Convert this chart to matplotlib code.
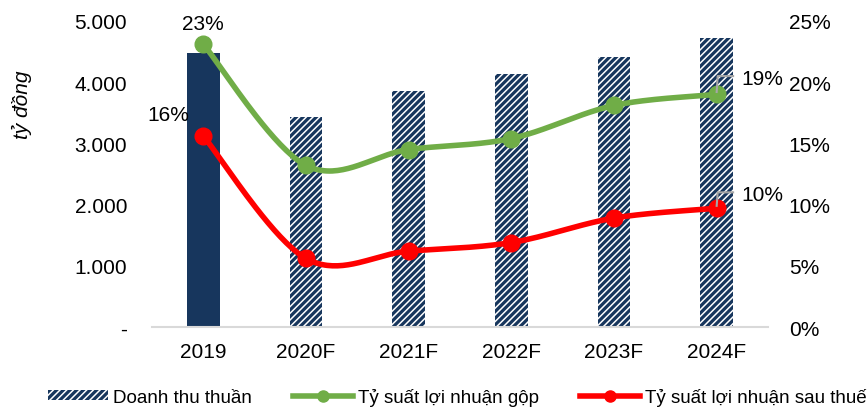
import numpy as np
import matplotlib
matplotlib.use("Agg")
import matplotlib.pyplot as plt
from matplotlib.patches import Patch
from matplotlib.lines import Line2D

plt.rcParams['font.family'] = ['Liberation Sans', 'DejaVu Sans']
plt.rcParams['hatch.linewidth'] = 2.3

categories = ["2019", "2020F", "2021F", "2022F", "2023F", "2024F"]
revenue = [4470, 3430, 3860, 4130, 4410, 4720]          # tỷ đồng
gross_margin = [23.1, 13.2, 14.5, 15.4, 18.1, 19.0]     # %
net_margin = [15.6, 5.6, 6.2, 6.9, 8.9, 9.7]            # %
left_ticks = [0, 1000, 2000, 3000, 4000, 5000]
left_ticklabels = ["-", "1.000", "2.000", "3.000", "4.000", "5.000"]
right_ticks = [0, 5, 10, 15, 20, 25]

NAVY = "#17365D"
GREEN = "#70AD47"
RED = "#FF0000"
FS = 15

fig = plt.figure(figsize=(8.68, 4.10), dpi=100)
ax = fig.add_axes([152 / 868, 1 - 328 / 410, (768 - 152) / 868, (328 - 22) / 410])
ax2 = ax.twinx()

x = np.arange(len(categories))
bw = 0.32
ax.bar(x[0], revenue[0], width=bw, color=NAVY, zorder=2)
ax.bar(x[1:], revenue[1:], width=bw, color="white", edgecolor=NAVY,
       hatch="/////", linewidth=0, zorder=2)

ax.set_xlim(-0.5, len(categories) - 0.5)
ax.set_ylim(0, 5000)
ax.set_yticks(left_ticks)
ax.set_yticklabels(left_ticklabels)
ax.set_xticks(x)
ax.set_xticklabels(categories)
ax2.set_ylim(0, 25)
ax2.set_yticks(right_ticks)
ax2.set_yticklabels([f"{t}%" for t in right_ticks])

for a in (ax, ax2):
    for s in a.spines.values():
        s.set_visible(False)
    a.tick_params(length=0, labelsize=FS, colors="black")
ax.spines['bottom'].set_visible(True)
ax.spines['bottom'].set_color("#D9D9D9")
ax.spines['bottom'].set_linewidth(1.5)
ax.tick_params(axis='y', pad=18)
ax.tick_params(axis='x', pad=11)
ax2.tick_params(axis='y', pad=15)


def smooth(xs, ys, n=40):
    # Catmull-Rom curve computed in pixel space so the bends look even
    sx, sy = 102.7, 12.24
    P = np.column_stack([np.asarray(xs, float) * sx, np.asarray(ys, float) * sy])
    P = np.vstack([P[0], P, P[-1]])
    out = []
    for i in range(1, len(P) - 2):
        p0, p1, p2, p3 = P[i - 1], P[i], P[i + 1], P[i + 2]
        c1 = p1 + (p2 - p0) / 6
        c2 = p2 - (p3 - p1) / 6
        t = np.linspace(0, 1, n)[:, None]
        seg = ((1 - t) ** 3) * p1 + 3 * ((1 - t) ** 2) * t * c1 + 3 * (1 - t) * t ** 2 * c2 + t ** 3 * p2
        out.append(seg if i == 1 else seg[1:])
    out = np.vstack(out)
    return out[:, 0] / sx, out[:, 1] / sy


for vals, col in ((gross_margin, GREEN), (net_margin, RED)):
    cx, cy = smooth(x, vals)
    ax2.plot(cx, cy, color=col, lw=4, zorder=3, solid_capstyle='round')
    ax2.plot(x, vals, 'o', color=col, ms=12, zorder=4)

# data labels
ax2.text(x[0], gross_margin[0] + 0.9, f"{round(gross_margin[0])}%", ha="center",
         va="bottom", fontsize=FS)
ax2.text(x[0] - 0.34, net_margin[0] + 1.8, f"{round(net_margin[0])}%", ha="center",
         va="center", fontsize=FS)
for vals, dy in ((gross_margin, 1.5), (net_margin, 1.3)):
    xe, ye = x[-1], vals[-1]
    ax2.plot([xe, xe + 0.01, xe + 0.16], [ye + 0.2, ye + dy, ye + dy],
             color="#A6A6A6", lw=1.5, zorder=5)
    ax2.text(xe + 0.24, ye + dy - 0.2, f"{round(ye)}%", ha="left", va="center",
             fontsize=FS)

fig.text(22 / 868, 1 - 105 / 410, "tỷ đồng", rotation=90, style="italic",
         fontsize=FS, ha="center", va="center")

handles = [
    Patch(facecolor="white", edgecolor=NAVY, hatch="/////", linewidth=0),
    Line2D([0], [0], color=GREEN, lw=4, marker='o', ms=8),
    Line2D([0], [0], color=RED, lw=4, marker='o', ms=8),
]
labels = ["Doanh thu thuần", "Tỷ suất lợi nhuận gộp", "Tỷ suất lợi nhuận sau thuế"]
fig.legend(handles, labels, loc="center", bbox_to_anchor=(0.527, 1 - 398 / 410),
           ncol=3, frameon=False, fontsize=13.5, handlelength=3.2,
           handleheight=0.45, handletextpad=0.25, columnspacing=2.2, borderpad=0.2)

fig.savefig("out.png", dpi=100)
